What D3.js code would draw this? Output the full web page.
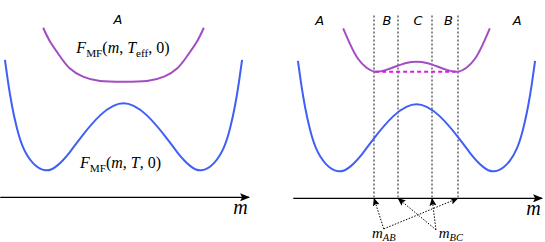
<!DOCTYPE html>
<html>
<head>
<meta charset="utf-8">
<script src="https://cdn.jsdelivr.net/npm/d3@7"></script>
<style>
  body { margin: 0; background: #fff; }
  svg { display: block; }
</style>
</head>
<body>
<div class="chart"></div>
<script>
// magnetisation m (minima at +-1) and free energy F (axis at 0)
const mBlue = [-1.52, -1.48, -1.43, -1.37, -1.29, -1.16, -1.0, -0.85, -0.69, -0.52, -0.30, -0.13, 0,
  0.13, 0.30, 0.52, 0.69, 0.85, 1.0, 1.16, 1.29, 1.37, 1.43, 1.48, 1.52]
const fBlue = [76.3, 64.0, 51.0, 39.0, 28.0, 19.0, 15.0, 17.6, 25.0, 34.7, 45.5, 50.8, 52.2,
  50.8, 45.5, 34.7, 25.0, 17.6, 15.0, 19.0, 28.0, 39.0, 51.0, 64.0, 76.3]

const mPurpleLeft = [-1.03, -0.94, -0.81, -0.69, -0.52, -0.30, 0, 0.30, 0.52, 0.69, 0.81, 0.94, 1.03]
const fPurpleLeft = [94.2, 86.4, 78.1, 71.7, 67.0, 64.6, 64.2, 64.6, 67.0, 71.7, 78.1, 86.4, 94.2]

const mPurpleRight = [-0.94, -0.85, -0.75, -0.64, -0.53, -0.40, -0.27, -0.13, 0, 0.13, 0.27, 0.40, 0.53, 0.64, 0.75, 0.85, 0.94]
const fPurpleRight = [94.4, 85.5, 77.5, 72.5, 70.3, 71.2, 73.2, 75.2, 75.9, 75.2, 73.2, 71.2, 70.3, 72.5, 77.5, 85.5, 94.4]

// common tangent (Maxwell construction)
const mTangent = [-0.53, 0.50]
const fTangent = 70.3

// phase boundaries on the right panel
const mBounds = [-0.55, -0.235, 0.195, 0.53]
const regionsLeft = [{ label: 'A', m: -0.07 }]
const regionsRight = [
  { label: 'A', m: -1.24 }, { label: 'B', m: -0.38 }, { label: 'C', m: 0.02 },
  { label: 'B', m: 0.41 }, { label: 'A', m: 1.29 }
]
// arrows from the m_AB / m_BC labels to the boundaries
const pointers = [
  { name: 'AB', from: [-0.42, -17], to: [0, 3] },
  { name: 'BC', from: [0.25, -17.5], to: [1, 2] }
]

const width = 545, height = 242
const blue = '#3f5ff6', purple = '#a24ec2', magenta = '#d21fe6'

let svg = d3.select('.chart')
  .append('svg')
  .attr('width', width)
  .attr('height', height)

let defs = svg.append('defs')
defs.append('marker')
  .attr('id', 'axisHead')
  .attr('viewBox', '0 0 10 8')
  .attr('refX', 9).attr('refY', 4)
  .attr('markerWidth', 10).attr('markerHeight', 8)
  .attr('markerUnits', 'userSpaceOnUse')
  .attr('orient', 'auto')
  .append('path')
  .attr('d', 'M0,0 L10,4 L0,8 L2,4 z')
  .attr('fill', '#000')
defs.append('marker')
  .attr('id', 'ptrHead')
  .attr('viewBox', '0 0 8 7')
  .attr('refX', 7.5).attr('refY', 3.5)
  .attr('markerWidth', 8).attr('markerHeight', 7)
  .attr('markerUnits', 'userSpaceOnUse')
  .attr('orient', 'auto')
  .append('path')
  .attr('d', 'M0,0 L8,3.5 L0,7 L1.5,3.5 z')
  .attr('fill', '#000')

function mathLabel(g, x, y, parts, size) {
  let t = g.append('text')
    .attr('x', x).attr('y', y)
    .attr('text-anchor', 'middle')
    .style('font-family', '"Liberation Serif", "DejaVu Serif", serif')
    .style('font-size', size + 'px')
  let shift = 0
  parts.forEach(p => {
    let want = p.sub ? size * 0.22 : 0
    t.append('tspan')
      .attr('dy', want - shift)
      .style('font-style', p.it ? 'italic' : 'normal')
      .style('font-size', p.sub ? (size * 0.7) + 'px' : null)
      .text(p.t)
    shift = want
  })
  return t
}

function panel(cx, axisY) {
  let x = d3.scaleLinear().domain([-1, 1]).range([cx - 78, cx + 78])
  let y = d3.scaleLinear().domain([0, 100]).range([axisY, axisY - 180])
  let g = svg.append('g')
  let line = d3.line()
    .x(d => x(d[0]))
    .y(d => y(d[1]))
    .curve(d3.curveNatural)

  // horizontal m axis
  g.append('line')
    .attr('x1', x(-1.58)).attr('x2', x(1.61))
    .attr('y1', y(0)).attr('y2', y(0))
    .attr('stroke', '#000')
    .attr('stroke-width', 1.3)
    .attr('marker-end', 'url(#axisHead)')
  g.append('text')
    .attr('x', x(1.5)).attr('y', y(-9.5))
    .attr('text-anchor', 'middle')
    .style('font-family', '"Liberation Serif", serif')
    .style('font-style', 'italic')
    .style('font-size', '20px')
    .text('m')

  return { g, x, y, line }
}

function regionText(p, list) {
  p.g.selectAll('text.region')
    .data(list)
    .enter()
    .append('text')
    .attr('class', 'region')
    .attr('x', d => p.x(d.m))
    .attr('y', p.y(96.5))
    .attr('text-anchor', 'middle')
    .style('font-family', '"DejaVu Sans", sans-serif')
    .style('font-style', 'italic')
    .style('font-size', '13px')
    .text(d => d.label)
}

// ---- left panel
let L = panel(123.5, 197.3)
L.g.append('path')
  .attr('d', L.line(d3.zip(mBlue, fBlue)))
  .attr('fill', 'none').attr('stroke', blue).attr('stroke-width', 2)
L.g.append('path')
  .attr('d', L.line(d3.zip(mPurpleLeft, fPurpleLeft)))
  .attr('fill', 'none').attr('stroke', purple).attr('stroke-width', 2)
regionText(L, regionsLeft)

mathLabel(L.g, 123, 53, [
  { t: 'F', it: true }, { t: 'MF', sub: true }, { t: '(' }, { t: 'm', it: true },
  { t: ', ' }, { t: 'T', it: true }, { t: 'eff', sub: true }, { t: ', 0)' }
], 16)
mathLabel(L.g, 120.5, 168, [
  { t: 'F', it: true }, { t: 'MF', sub: true }, { t: '(' }, { t: 'm', it: true },
  { t: ', ' }, { t: 'T', it: true }, { t: ', 0)' }
], 16)

// ---- right panel
let R = panel(416.5, 198.3)

R.g.selectAll('line.bound')
  .data(mBounds)
  .enter()
  .append('line')
  .attr('class', 'bound')
  .attr('x1', d => Math.round(R.x(d))).attr('x2', d => Math.round(R.x(d)))
  .attr('y1', R.y(101.5)).attr('y2', R.y(0))
  .attr('stroke', '#8a8a8a')
  .attr('stroke-width', 2)
  .attr('stroke-dasharray', '2,2')

R.g.append('path')
  .attr('d', R.line(d3.zip(mBlue, fBlue)))
  .attr('fill', 'none').attr('stroke', blue).attr('stroke-width', 2)
R.g.append('path')
  .attr('d', R.line(d3.zip(mPurpleRight, fPurpleRight)))
  .attr('fill', 'none').attr('stroke', purple).attr('stroke-width', 2)
R.g.append('line')
  .attr('x1', R.x(mTangent[0])).attr('x2', R.x(mTangent[1]))
  .attr('y1', R.y(fTangent)).attr('y2', R.y(fTangent))
  .attr('stroke', magenta)
  .attr('stroke-width', 2)
  .attr('stroke-dasharray', '4,3')
regionText(R, regionsRight)

pointers.forEach(pt => {
  pt.to.forEach(i => {
    R.g.append('line')
      .attr('x1', R.x(pt.from[0])).attr('y1', R.y(pt.from[1]))
      .attr('x2', Math.round(R.x(mBounds[i]))).attr('y2', R.y(0))
      .attr('stroke', '#000')
      .attr('stroke-width', 1)
      .attr('stroke-dasharray', '1.5,1.5')
      .attr('marker-end', 'url(#ptrHead)')
  })
})

mathLabel(R.g, R.x(-0.42), 238, [{ t: 'm', it: true }, { t: 'AB', it: true, sub: true }], 15)
mathLabel(R.g, R.x(0.44), 238, [{ t: 'm', it: true }, { t: 'BC', it: true, sub: true }], 15)
</script>
</body>
</html>
